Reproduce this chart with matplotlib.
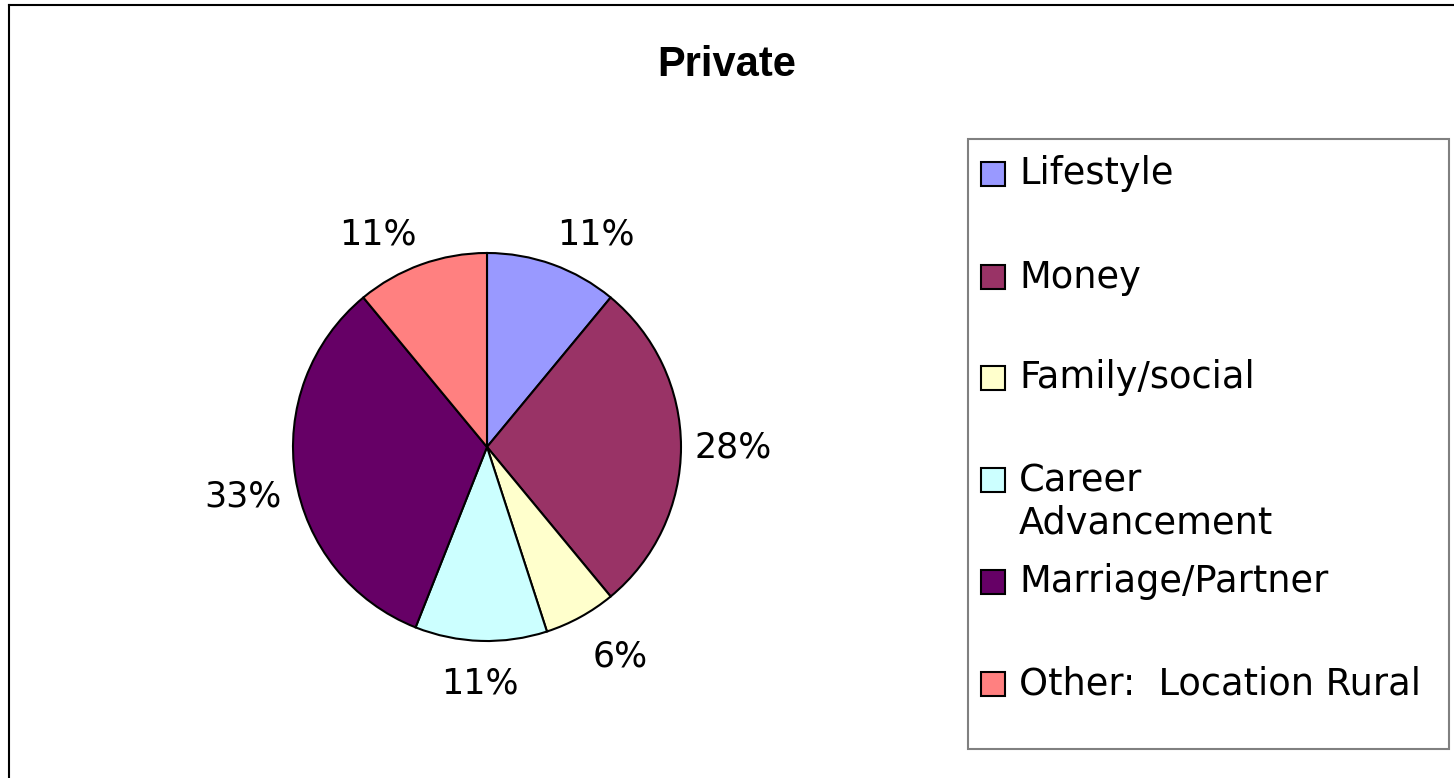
#!/usr/bin/env python3

import numpy as np
import matplotlib
matplotlib.use('Agg')
import matplotlib.pyplot as plt
from matplotlib.patches import Rectangle
from matplotlib.lines import Line2D

W, H = 1454, 778

categories = ['Lifestyle', 'Money', 'Family/social', 'Career\nAdvancement',
              'Marriage/Partner', 'Other:  Location Rural']
shares = [11, 28, 6, 11, 33, 11]
colors = ['#9999FF', '#993366', '#FFFFCC', '#CCFFFF', '#660066', '#FF8080']
title = 'Private'

# legend row centres (pixels from the top)
legend_rows = [174, 277, 378, 502, 582, 684]


def px(x, y):
    return x / W, 1 - y / H


def main():
    fig = plt.figure(figsize=(W / 100, H / 100), dpi=100)

    # chart border (top and left only visible)
    fig.add_artist(Line2D([9 / W, 1], [1 - 5 / H, 1 - 5 / H], color='black', lw=1.5,
                          transform=fig.transFigure))
    fig.add_artist(Line2D([9 / W, 9 / W], [0, 1 - 5 / H], color='black', lw=1.5,
                          transform=fig.transFigure))

    fig.text(0.5, 1 - 65 / H, title, ha='center', va='center', fontsize=30,
             fontweight='bold', family='Liberation Sans')

    cx, cy, r = 487, 447, 194
    ax = fig.add_axes([(cx - r) / W, (H - cy - r) / H, 2 * r / W, 2 * r / H])
    wedges, _ = ax.pie(shares, colors=colors, startangle=90, counterclock=False,
                       radius=1, wedgeprops=dict(edgecolor='black', linewidth=1.5))
    ax.set_xlim(-1, 1)
    ax.set_ylim(-1, 1)
    ax.set_aspect('equal')
    ax.axis('off')

    for w, val in zip(wedges, shares):
        ang = np.deg2rad((w.theta1 + w.theta2) / 2)
        c, s = np.cos(ang), np.sin(ang)
        ha = 'left' if c > 0.1 else ('right' if c < -0.1 else 'center')
        va = 'bottom' if s > 0.1 else ('top' if s < -0.1 else 'center')
        d = 1.07 if s > -0.5 else 1.13
        ax.text(d * c, d * s, f'{val}%', ha=ha, va=va, fontsize=25,
                family='DejaVu Sans', clip_on=False)

    # legend box
    x0, y0 = px(968, 749)
    x1, y1 = px(1449, 139)
    fig.add_artist(Rectangle((x0, y0), x1 - x0, y1 - y0, transform=fig.transFigure,
                             facecolor='white', edgecolor='#808080', lw=1.5))
    for lab, col, yc in zip(categories, colors, legend_rows):
        ym = yc
        if '\n' in lab:
            ym = yc - 22
        mx, my = px(981, ym + 12)
        fig.add_artist(Rectangle((mx, my), 24 / W, 24 / H, transform=fig.transFigure,
                                 facecolor=col, edgecolor='black', lw=1.5))
        tx, ty = px(1019, yc)
        fig.text(tx, ty, lab, ha='left', va='center', fontsize=26.5,
                 family='DejaVu Sans', linespacing=1.2)

    fig.savefig('out.png', dpi=100)


if __name__ == '__main__':
    main()
